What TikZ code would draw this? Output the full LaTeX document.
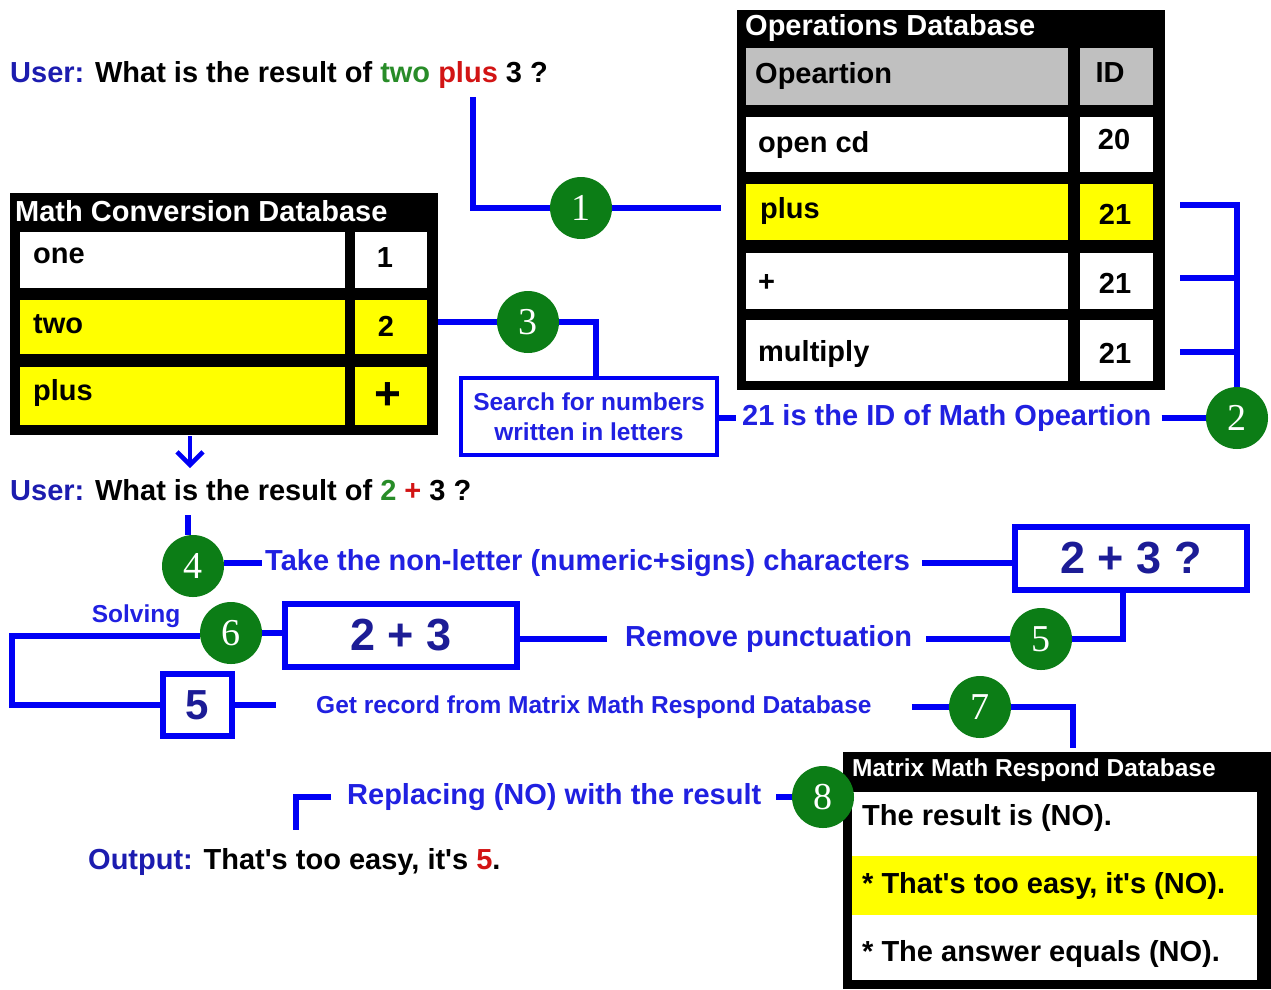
\documentclass[tikz,border=0pt]{standalone}
\usepackage{fontspec}
\setmainfont{Liberation Sans}
\newfontfamily\numfont{Liberation Serif}
\usetikzlibrary{arrows.meta}

\definecolor{lineblue}{RGB}{0,0,245}
\definecolor{labelblue}{RGB}{32,32,225}
\definecolor{userblue}{RGB}{28,28,175}
\definecolor{navy}{RGB}{28,28,150}
\definecolor{stepgreen}{RGB}{12,125,22}
\definecolor{wordgreen}{RGB}{40,140,40}
\definecolor{wordred}{RGB}{210,20,20}
\definecolor{rowyellow}{RGB}{255,255,0}
\definecolor{headgray}{RGB}{192,192,192}

\newcommand{\bigf}{\bfseries\fontsize{29}{32}\selectfont}
\newcommand{\smallf}{\bfseries\fontsize{24.5}{32}\selectfont}
\newcommand{\apos}{\textquotesingle}

\tikzset{
  conn/.style={draw=lineblue, line width=6pt},
  stepnum/.style={circle, fill=stepgreen, minimum size=62pt, inner sep=0pt,
    text=white, font=\numfont\fontsize{38}{38}\selectfont},
  txt/.style={inner sep=0pt, anchor=west, font=\bigf},
  smalltxt/.style={inner sep=0pt, anchor=west, font=\smallf},
  label/.style={txt, text=labelblue},
  smalllabel/.style={smalltxt, text=labelblue},
  dbframe/.style={fill=black},
  dbtitle/.style={inner sep=0pt, anchor=west, text=white, font=\bigf},
  exprbox/.style={draw=lineblue, line width=6pt, fill=white, inner sep=0pt,
    text=navy, font=\bfseries\fontsize{45}{45}\selectfont},
}

\begin{document}
\begin{tikzpicture}[x=1pt,y=-1pt]
\useasboundingbox (0,0) rectangle (1271,989);

% ---------- first question ----------
\node[txt] (q1) at (10,75) {\textcolor{userblue}{User:} What is the result of
  \textcolor{wordgreen}{two} \textcolor{wordred}{plus} 3 ?};
\coordinate (q1plus) at (473,97);

% ---------- Operations Database ----------
\fill[dbframe] (737,10) rectangle (1165,390);
\node[dbtitle] (opt) at (745,28) {Operations Database};
\fill[headgray] (746,48) rectangle (1068,105);
\fill[headgray] (1080,48) rectangle (1153,105);
\node[txt] (hop) at (755,76) {Opeartion};
\node[txt, anchor=center] (hid) at (1110,73) {ID};
\fill[white] (746,117) rectangle (1068,172);
\fill[white] (1080,117) rectangle (1153,172);
\node[txt] (r1a) at (758,145) {open cd};
\node[txt, anchor=center] (r1b) at (1114,140) {20};
\fill[rowyellow] (746,184) rectangle (1068,240);
\fill[rowyellow] (1080,184) rectangle (1153,240);
\node[txt] (r2a) at (760,211) {plus};
\node[txt, anchor=center] (r2b) at (1115,214) {21};
\fill[white] (746,253) rectangle (1068,309);
\fill[white] (1080,253) rectangle (1153,309);
\node[txt] (r3a) at (758,283) {+};
\node[txt, anchor=center] (r3b) at (1115,283) {21};
\fill[white] (746,320) rectangle (1068,381);
\fill[white] (1080,320) rectangle (1153,381);
\node[txt] (r4a) at (758,354) {multiply};
\node[txt, anchor=center] (r4b) at (1115,353) {21};

% ---------- Math Conversion Database ----------
\fill[dbframe] (10,193) rectangle (438,435);
\node[dbtitle] (mct) at (15,211) {Math Conversion Database};
\fill[white] (20,232) rectangle (345,288);
\fill[white] (355,232) rectangle (427,288);
\node[txt] (m1a) at (33,256) {one};
\node[txt, anchor=center] (m1b) at (385,258) {1};
\fill[rowyellow] (20,300) rectangle (345,354);
\fill[rowyellow] (355,300) rectangle (427,354);
\node[txt] (m2a) at (33,324) {two};
\node[txt, anchor=center] (m2b) at (386,326) {2};
\fill[rowyellow] (20,367) rectangle (345,425);
\fill[rowyellow] (355,367) rectangle (427,425);
\node[txt] (m3a) at (33,393) {plus};
\node[inner sep=0pt, font=\bfseries\fontsize{46}{46}\selectfont] (m3b) at (388,396) {+};
\coordinate (mcout) at (438,322);
\coordinate (mcbottom) at (190,436);

% ---------- step 1 ----------
\node[stepnum] (s1) at (581,208) {1};
\coordinate (opin) at (721,208);
\draw[conn] (q1plus) |- (s1) -- (opin);

% ---------- step 2 ----------
\node[stepnum] (s2) at (1237,418) {2};
\coordinate (b1) at (1180,205);
\coordinate (b2) at (1180,278);
\coordinate (b3) at (1180,352);
\draw[conn] (b1) -| (s2);
\draw[conn] (b2) -- (b2 -| s2);
\draw[conn] (b3) -- (b3 -| s2);
\node[label] (t2) at (742,418) {21 is the ID of Math Opeartion};
\draw[conn] ([xshift=10pt]t2.east) -- (s2.west |- t2);

% ---------- step 3 ----------
\node[draw=lineblue, line width=4.5pt, minimum width=256pt, minimum height=77pt,
  inner sep=0pt, align=center, text=labelblue, font=\smallf]
  (search) at (589,416.5) {Search for numbers\\[-2pt]written in letters};
\node[stepnum] (s3) at (528,322) {3};
\draw[conn] (mcout) -- (s3) -| ([xshift=7pt]search.north);
\draw[conn] (search.east |- t2) -- ([xshift=-6pt]t2.west);

% ---------- second question ----------
\draw[lineblue, line width=4.5pt, -{Straight Barb[length=13pt, width=26pt]}]
  (mcbottom) -- (190,468);
\node[txt] (q2) at (10,490) {\textcolor{userblue}{User:} What is the result of
  \textcolor{wordgreen}{2} \textcolor{wordred}{+} 3 ?};
\coordinate (q2c) at (188,515);

% ---------- step 4 ----------
\node[stepnum] (s4) at (193,566) {4};
\draw[conn] (q2c) -- (q2c |- s4.north);
\node[label] (t4) at (265,563) {Take the non-letter (numeric+signs) characters};
\draw[conn] (s4.east |- t4) -- ([xshift=-3pt]t4.west);
\node[exprbox, minimum width=232pt, minimum height=63pt] (b4) at (1131,558.5) {2 + 3 ?};
\draw[conn] ([xshift=12pt]t4.east) -- (b4.west |- t4);

% ---------- step 5 ----------
\node[stepnum] (s5) at (1041,639) {5};
\draw[conn] ([xshift=-8pt]b4.south) |- (s5.east);
\node[label] (t5) at (625,639) {Remove punctuation};
\draw[conn] (s5.west) -- ([xshift=14pt]t5.east);
\node[exprbox, minimum width=232pt, minimum height=63pt] (b6) at (401,635.5) {2 + 3};
\draw[conn] ([xshift=-18pt]t5.west) -- (b6.east |- t5);

% ---------- step 6 ----------
\node[stepnum] (s6) at (231,633) {6};
\draw[conn] (b6.west |- s6) -- (s6.east);
\node[smalllabel, anchor=center] (solv) at (136,616) {Solving};
\node[exprbox, minimum width=69pt, minimum height=62pt,
  font=\bfseries\fontsize{42}{42}\selectfont] (b5) at (197,705) {5};
\coordinate (loopl) at (12,636);
\draw[conn] (s6.west |- loopl) -- (loopl) |- (b5.west);
\coordinate (b5r) at (276,705);
\draw[conn] (b5.east) -- (b5r);

% ---------- step 7 ----------
\node[smalllabel] (t7) at (316,707) {Get record from Matrix Math Respond Database};
\node[stepnum] (s7) at (980,707) {7};
\coordinate (mrin) at (1073,748);
\draw[conn] ([xshift=40pt]t7.east) -- (s7.west);
\draw[conn] (s7.east) -| (mrin);

% ---------- Matrix Math Respond Database ----------
\fill[dbframe] (843,752) rectangle (1271,989);
\node[dbtitle, font=\smallf] (mrt) at (852,770) {Matrix Math Respond Database};
\fill[white] (852,792) rectangle (1257,980);
\fill[rowyellow] (852,856) rectangle (1257,915);
\node[txt] (x1) at (862,818) {The result is (NO).};
\node[txt] (x2) at (862,886) {* That\apos s too easy, it\apos s (NO).};
\node[txt] (x3) at (862,954) {* The answer equals (NO).};

% ---------- step 8 ----------
\node[stepnum] (s8) at (823,797) {8};
\node[label] (t8) at (347,797) {Replacing (NO) with the result};
\draw[conn] ([xshift=15pt]t8.east) -- (s8.west);
\coordinate (c8a) at (331,797);
\coordinate (c8b) at (296,830);
\draw[conn] (c8a) -| (c8b);

% ---------- output ----------
\node[txt] (out) at (88,862) {\textcolor{userblue}{Output:} That\apos s too easy, it\apos s
  \textcolor{wordred}{5}.};

\end{tikzpicture}
\end{document}
